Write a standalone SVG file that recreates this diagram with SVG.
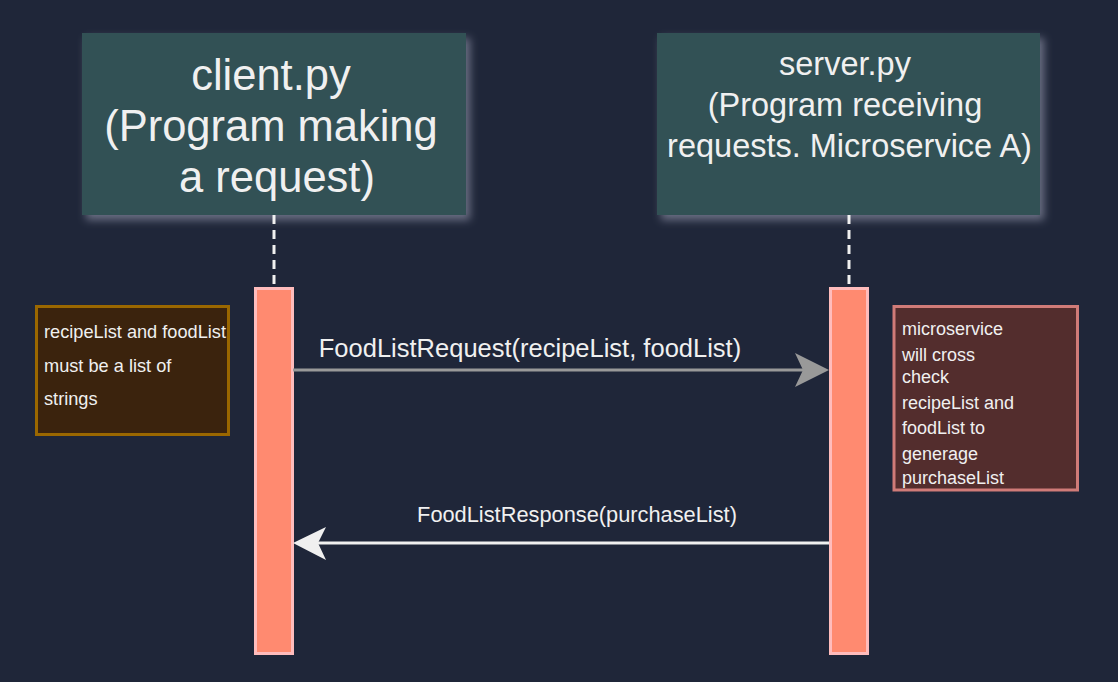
<svg xmlns="http://www.w3.org/2000/svg" width="1118" height="682" viewBox="0 0 1118 682">
  <style>
    .hdr{fill:#325155;}
    .t{font-family:"Liberation Sans",Arial,sans-serif;fill:#f0f0f0;}
    .act{fill:#ff8a70;stroke:#ffbcbc;stroke-width:3;}
    .life{stroke:#f0f0f0;stroke-width:3;stroke-dasharray:9 6;fill:none;}
  </style>
  <defs>
    <filter id="sh" x="-10%" y="-10%" width="125%" height="130%">
      <feGaussianBlur in="SourceAlpha" stdDeviation="4" result="b"/>
      <feOffset in="b" dx="4" dy="5" result="o"/>
      <feFlood flood-color="#8a8ea3" flood-opacity="0.7"/>
      <feComposite in2="o" operator="in" result="s"/>
      <feMerge><feMergeNode in="s"/><feMergeNode in="SourceGraphic"/></feMerge>
    </filter>
  </defs>
  <rect width="1118" height="682" fill="#1f2639"/>

  <g id="client">
    <rect class="hdr" x="82" y="33" width="384" height="182" filter="url(#sh)"/>
    <text class="t" text-anchor="middle" font-size="43.5">
      <tspan x="277" y="90">client.py</tspan>
      <tspan x="277" y="141">(Program making</tspan>
      <tspan x="277" y="192">a request)</tspan>
    </text>
  </g>

  <g id="server">
    <rect class="hdr" x="657" y="33" width="383" height="182" filter="url(#sh)"/>
    <text class="t" text-anchor="middle" font-size="32.5">
      <tspan x="849.5" y="75">server.py</tspan>
      <tspan x="849.5" y="116">(Program receiving</tspan>
      <tspan x="849.5" y="157">requests. Microservice A)</tspan>
    </text>
  </g>

  <g id="lifelines">
    <line class="life" x1="274" y1="215" x2="274" y2="287"/>
    <line class="life" x1="849" y1="215" x2="849" y2="287"/>
  </g>

  <g id="client-activation">
    <rect class="act" x="255.5" y="288.5" width="37" height="365"/>
  </g>
  <g id="server-activation">
    <rect class="act" x="830.5" y="288.5" width="37" height="365"/>
  </g>

  <g id="note-left">
    <rect x="36.5" y="306.5" width="192" height="128" fill="#3b230d" stroke="#9a6700" stroke-width="3"/>
    <text class="t" font-size="18.2">
      <tspan x="44" y="338">recipeList and foodList</tspan>
      <tspan x="44" y="372">must be a list of</tspan>
      <tspan x="44" y="405">strings</tspan>
    </text>
  </g>

  <g id="note-right">
    <rect x="894" y="306.5" width="183.5" height="183.5" fill="#532d2d" stroke="#d07b78" stroke-width="3"/>
    <text class="t" font-size="18">
      <tspan x="902" y="335">microservice</tspan>
      <tspan x="902" y="361">will cross</tspan>
      <tspan x="902" y="383">check</tspan>
      <tspan x="902" y="409">recipeList and</tspan>
      <tspan x="902" y="434">foodList to</tspan>
      <tspan x="902" y="460">generage</tspan>
      <tspan x="902" y="484">purchaseList</tspan>
    </text>
  </g>

  <g id="connectors">
    <g id="request">
      <line x1="293" y1="370" x2="805" y2="370" stroke="#999999" stroke-width="3"/>
      <path d="M829,370 L795,353 L803,370 L795,387 Z" fill="#999999"/>
      <text class="t" x="530" y="357" text-anchor="middle" font-size="25.5">FoodListRequest(recipeList, foodList)</text>
    </g>
    <g id="response">
      <line x1="829" y1="543" x2="316" y2="543" stroke="#f0f0f0" stroke-width="3"/>
      <path d="M293,543 L326,527 L318,543 L326,560 Z" fill="#f0f0f0"/>
      <text class="t" x="577" y="522" text-anchor="middle" font-size="21.8">FoodListResponse(purchaseList)</text>
    </g>
  </g>
</svg>
